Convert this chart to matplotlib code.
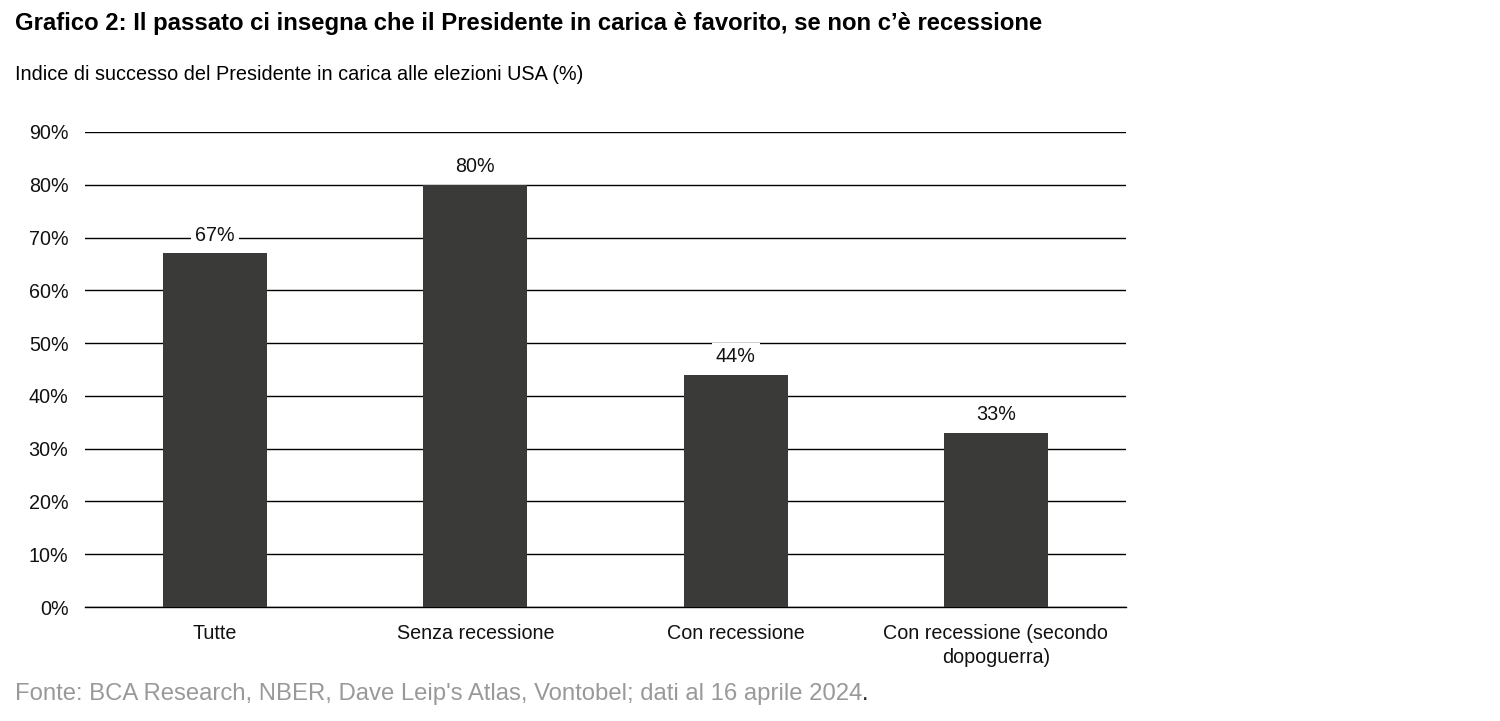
import matplotlib.pyplot as plt
import numpy as np

plt.rcParams['font.family'] = ['Liberation Sans', 'DejaVu Sans']

categories = ["Tutte", "Senza recessione", "Con recessione",
              "Con recessione (secondo\ndopoguerra)"]
values = [67, 80, 44, 33]
y_ticks = [0, 10, 20, 30, 40, 50, 60, 70, 80, 90]

title = "Grafico 2: Il passato ci insegna che il Presidente in carica è favorito, se non c’è recessione"
subtitle = "Indice di successo del Presidente in carica alle elezioni USA (%)"
source = "Fonte: BCA Research, NBER, Dave Leip's Atlas, Vontobel; dati al 16 aprile 2024"

fig = plt.figure(figsize=(15, 7.21), dpi=100)
ax = fig.add_axes([0.0567, 0.158, 0.694, 0.659])

x = np.arange(len(categories))
ax.bar(x, values, width=0.4, color="#3a3b38", zorder=2)

for xi, v in zip(x, values):
    ax.text(xi, v + 1.6, f"{v}%", ha="center", va="bottom", fontsize=14.2,
            color="#111111", zorder=3,
            bbox=dict(facecolor="white", edgecolor="none", pad=3))

ax.set_xlim(-0.5, len(categories) - 0.5)
ax.set_ylim(0, 90)
ax.set_yticks(y_ticks)
ax.set_yticklabels([f"{t}%" for t in y_ticks])
ax.set_xticks(x)
ax.set_xticklabels(categories, linespacing=1.35)
ax.tick_params(axis="both", length=0, labelsize=14.2, colors="#111111")
ax.tick_params(axis="y", pad=12)
ax.tick_params(axis="x", pad=12)
ax.yaxis.grid(True, color="black", linewidth=1)
ax.axhline(0, color="black", linewidth=1, zorder=1, clip_on=False)
ax.set_axisbelow(True)
for s in ax.spines.values():
    s.set_visible(False)

fig.text(0.01, 0.968, title, fontsize=17.2, fontweight="bold", va="center")
fig.text(0.01, 0.896, subtitle, fontsize=14.3, va="center")
t = fig.text(0.01, 0.037, source, fontsize=17.2, color="#999999", va="center")
fig.canvas.draw()
bb = t.get_window_extent()
fig.text(bb.x1 / fig.bbox.width, 0.037, ".", fontsize=17.2, color="#222222", va="center")

fig.savefig("out.png", dpi=100)
